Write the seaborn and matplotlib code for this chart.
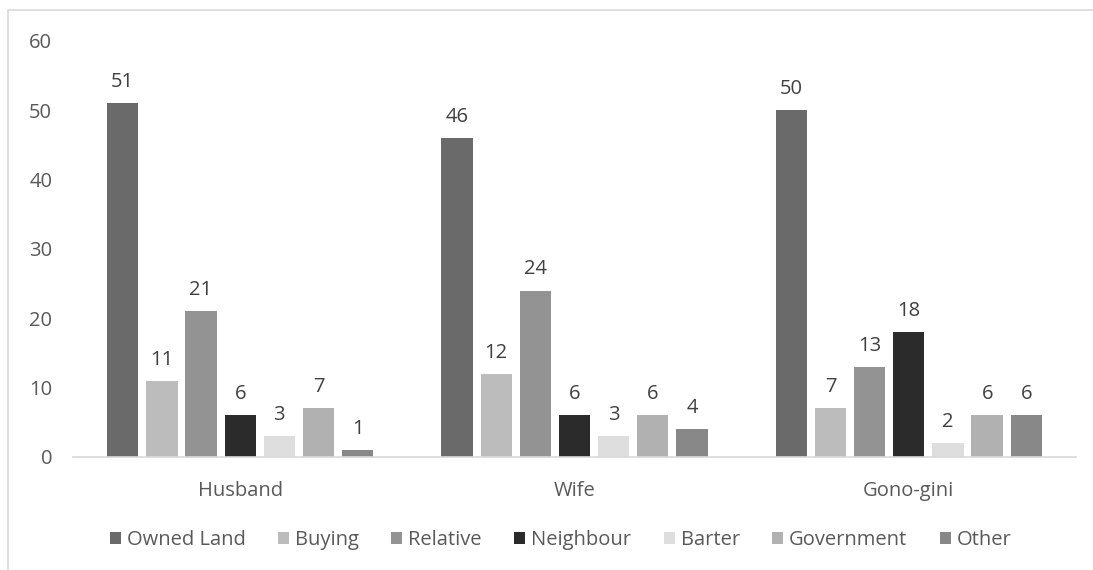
import matplotlib
matplotlib.use("Agg")
import matplotlib.pyplot as plt
import seaborn as sns
import pandas as pd
from matplotlib.patches import Rectangle

groups = ["Husband", "Wife", "Gono-gini"]
sources = ["Owned Land", "Buying", "Relative", "Neighbour", "Barter", "Government", "Other"]
husband = [51, 11, 21, 6, 3, 7, 1]
wife = [46, 12, 24, 6, 3, 6, 4]
gonogini = [50, 7, 13, 18, 2, 6, 6]
colors = ["#6a6a6a", "#bcbcbc", "#939393", "#2b2b2b", "#dedede", "#b1b1b1", "#888888"]
yticks = [0, 10, 20, 30, 40, 50, 60]

rows = []
for g, vals in zip(groups, [husband, wife, gonogini]):
    for s, v in zip(sources, vals):
        rows.append({"group": g, "source": s, "value": v})
df = pd.DataFrame(rows)

sns.set_theme(style="white")
plt.rcParams['font.family'] = ['Open Sans', 'DejaVu Sans']

FS = 14.5
fig = plt.figure(figsize=(10.93, 5.70), dpi=100)
ax = fig.add_axes([73/1093, 1-457/570, (1076-73)/1093, (457-41)/570])

sns.barplot(data=df, x="group", y="value", hue="source", hue_order=sources,
            order=groups, palette=colors, width=0.82, gap=0.2, ax=ax,
            saturation=1, edgecolor="none", linewidth=0)

for c in ax.containers:
    ax.bar_label(c, fmt="%d", padding=8, fontsize=FS, color="#404040")

ax.set_ylim(0, 60)
ax.set_yticks(yticks)
ax.set_xlabel("")
ax.set_ylabel("")
ax.tick_params(axis="y", length=0, labelsize=FS, labelcolor="#595959", pad=15)
ax.tick_params(axis="x", length=0, labelsize=FS, labelcolor="#595959", pad=17)
for sp in ["left", "right", "top"]:
    ax.spines[sp].set_visible(False)
ax.spines["bottom"].set_color("#d9d9d9")
ax.spines["bottom"].set_linewidth(1.2)
ax.grid(False)

leg = ax.legend(loc="center", bbox_to_anchor=(0.513, 1-540/570), bbox_transform=fig.transFigure,
                ncol=7, frameon=False, fontsize=FS, handlelength=0.55, handleheight=0.55,
                handletextpad=0.3, columnspacing=1.6)
for t in leg.get_texts():
    t.set_color("#595959")

fig.patches.append(Rectangle((8/1093, -0.1), 1.2, 1-10/570+0.1, transform=fig.transFigure,
                             fill=False, edgecolor="#d9d9d9", linewidth=1.2, zorder=-1))

fig.savefig("out.png", dpi=100)
